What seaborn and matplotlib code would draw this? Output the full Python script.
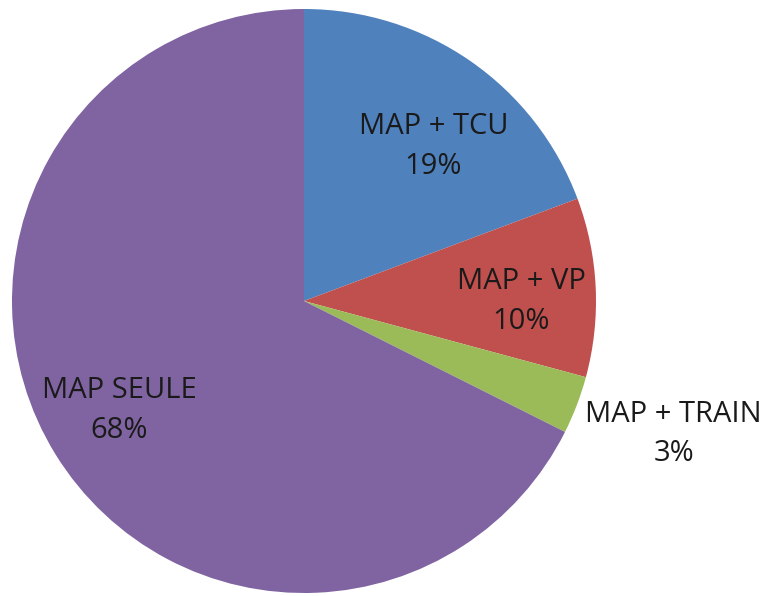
import numpy as np
import seaborn as sns
import matplotlib.pyplot as plt

sns.set_theme(style="white")
plt.rcParams['font.family'] = ['Open Sans', 'DejaVu Sans']

# slices, clockwise from the top
categories = ['MAP + TCU', 'MAP + VP', 'MAP + TRAIN', 'MAP SEULE']
shares = [19.3, 9.9, 3.2, 67.6]
colors = ['#4F81BD', '#C0504D', '#9BBB59', '#8064A2']

fig = plt.figure(figsize=(7.67, 5.96), dpi=100)
# pie centre at (304, 301) px, radius 292 px
ax = fig.add_axes([12 / 767, 3 / 596, 584 / 767, 584 / 596])

wedges, _ = ax.pie(shares, colors=colors, startangle=90, counterclock=False,
                   wedgeprops=dict(linewidth=0))
ax.set_xlim(-1, 1)
ax.set_ylim(-1, 1)
ax.set_aspect('equal')

# label placement: distance from centre (fraction of radius), angle shift (deg)
label_dist = [0.69, 0.743, 1.345, 0.735]
label_shift = [-5.2, -2.8, 1.1, -1.0]
total = sum(shares)
for w, name, val, d, s in zip(wedges, categories, shares, label_dist, label_shift):
    ang = np.deg2rad((w.theta1 + w.theta2) / 2 + s)
    ax.text(d * np.cos(ang), d * np.sin(ang),
            f"{name}\n{round(val / total * 100):.0f}%",
            ha='center', va='center', fontsize=21, linespacing=1.47,
            color='#1a1a1a', clip_on=False)

ax.axis('off')
fig.savefig('out.png', dpi=100)
